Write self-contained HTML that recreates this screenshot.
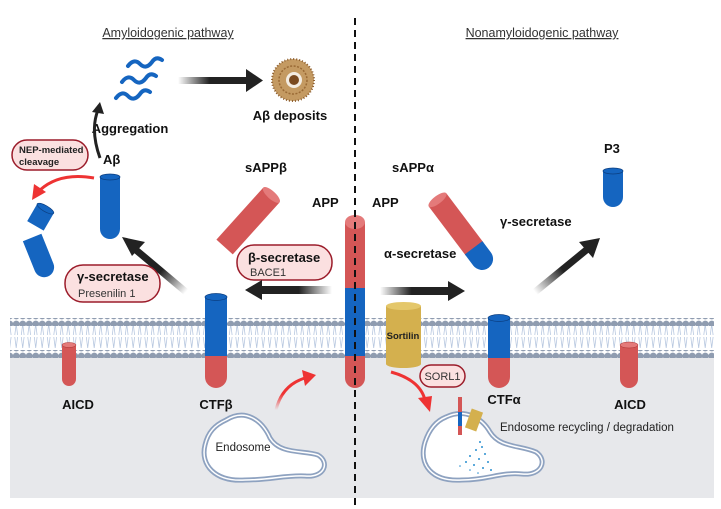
<!DOCTYPE html>
<html><head><meta charset="utf-8"><style>
html,body{margin:0;padding:0;background:#fff}
svg{display:block}
text{font-family:"Liberation Sans",sans-serif}
.b{font-weight:bold;font-size:13px;fill:#111}
</style></head><body>
<svg width="721" height="509" viewBox="0 0 721 509" xmlns="http://www.w3.org/2000/svg">
<defs>
<linearGradient id="gl" x1="1" y1="0" x2="0" y2="0"><stop offset="0" stop-color="#222" stop-opacity="0"/><stop offset="0.45" stop-color="#222"/></linearGradient>
<linearGradient id="gr" x1="0" y1="0" x2="1" y2="0"><stop offset="0" stop-color="#222" stop-opacity="0"/><stop offset="0.45" stop-color="#222"/></linearGradient>
<linearGradient id="gd1" gradientUnits="userSpaceOnUse" x1="186" y1="292" x2="136" y2="250"><stop offset="0" stop-color="#222" stop-opacity="0"/><stop offset="0.5" stop-color="#222"/></linearGradient>
<linearGradient id="gd2" gradientUnits="userSpaceOnUse" x1="535" y1="292" x2="590" y2="247"><stop offset="0" stop-color="#222" stop-opacity="0"/><stop offset="0.5" stop-color="#222"/></linearGradient>
<linearGradient id="gred" x1="0" y1="1" x2="0" y2="0"><stop offset="0" stop-color="#e33" stop-opacity="0"/><stop offset="0.5" stop-color="#e33"/></linearGradient>
<pattern id="lip" x="0" y="0" width="6.5" height="32" patternUnits="userSpaceOnUse">
<path d="M3.2 4 L1.8 15 M3.2 4 L4.6 15 M3.2 28 L1.8 17 M3.2 28 L4.6 17" stroke="#b8c8e0" stroke-width="0.8" fill="none"/>
</pattern>
<pattern id="bead" x="0" y="0" width="6.5" height="8" patternUnits="userSpaceOnUse">
<circle cx="3.25" cy="4" r="3.4" fill="#8f9cb0"/>
</pattern>
</defs>
<rect x="10" y="355" width="704" height="143" fill="#e7e8eb"/>
<rect x="10" y="322" width="704" height="32" fill="url(#lip)"/>
<rect x="10" y="318" width="704" height="8" fill="url(#bead)"/>
<rect x="10" y="350" width="704" height="8" fill="url(#bead)"/>

<text x="168" y="37" text-anchor="middle" font-size="12.5" fill="#333" text-decoration="underline">Amyloidogenic pathway</text>
<text x="542" y="37" text-anchor="middle" font-size="12.5" fill="#333" text-decoration="underline">Nonamyloidogenic pathway</text>

<g stroke="#1565c0" stroke-width="4" fill="none" stroke-linecap="round">
<path d="M128 66 q6 -8 12 -2 q6 6 12 -2 q4 -6 10 -2"/>
<path d="M122 82 q6 -8 12 -2 q6 6 12 -2 q4 -6 10 -2"/>
<path d="M116 98 q6 -8 12 -2 q6 6 12 -2 q4 -6 10 -2"/>
</g>
<rect x="178" y="77" width="70" height="7" fill="url(#gr)"/>
<polygon points="246,69 263,80.5 246,92" fill="#222"/>
<circle cx="293" cy="80" r="21" fill="#c49a62"/>
<circle cx="293" cy="80" r="21" fill="none" stroke="#8a5a2a" stroke-width="2" stroke-dasharray="1 2"/>
<circle cx="293" cy="80" r="14" fill="none" stroke="#9a6a35" stroke-width="1.5" stroke-dasharray="2 1.5"/>
<circle cx="294" cy="80" r="8" fill="#f3ece2"/>
<circle cx="294" cy="80" r="5" fill="#7a4a20"/>
<text x="290" y="120" text-anchor="middle" class="b" font-size="14">Aβ deposits</text>
<text x="130" y="133" text-anchor="middle" class="b" font-size="11.5">Aggregation</text>
<path d="M100 158 Q90 130 98 110" stroke="#222" stroke-width="3" fill="none"/>
<polygon points="92,112 100,102 104,114" fill="#222"/>

<rect x="12" y="140" width="76" height="30" rx="15" fill="#fbe0e0" stroke="#9b1c2a" stroke-width="1.5"/>
<text x="19" y="153" font-size="9.5" font-weight="bold" fill="#222">NEP-mediated</text>
<text x="19" y="165" font-size="9.5" font-weight="bold" fill="#222">cleavage</text>
<text x="103" y="164" class="b" font-size="14">Aβ</text>
<path d="M94 178 Q60 172 40 190" stroke="#e33" stroke-width="3" fill="none"/>
<polygon points="32,200 34,184 46,192" fill="#e33"/>
<path d="M100 177 h20 v52 a10 10 0 0 1 -20 0 z" fill="#1565c0"/>
<ellipse cx="110" cy="177" rx="10" ry="3" fill="#1565c0" stroke="#0b3e80" stroke-width="0.7"/>
<g transform="rotate(30 40 217)"><rect x="31" y="207" width="19" height="20" fill="#1565c0"/><ellipse cx="40.5" cy="207" rx="9.5" ry="3" fill="#1565c0" stroke="#0b3e80" stroke-width="0.7"/></g>
<g transform="rotate(-22 40 257)"><path d="M30 236 h20 v32 a10 10 0 0 1 -20 0 z" fill="#1565c0"/></g>

<path d="M186 292 L136 250" stroke="url(#gd1)" stroke-width="7"/>
<polygon points="122,237 145,242 132,256" fill="#222"/>
<rect x="65" y="265" width="95" height="37" rx="18" fill="#fbe0e0" stroke="#9b1c2a" stroke-width="1.5"/>
<text x="77" y="281" class="b" font-size="13.5">γ-secretase</text>
<text x="78" y="297" font-size="11" fill="#333">Presenilin 1</text>

<text x="245" y="172" class="b">sAPPβ</text>
<g transform="rotate(42 248 221)"><rect x="237" y="186" width="22" height="70" fill="#d45656"/><ellipse cx="248" cy="186" rx="11" ry="4" fill="#e47a7a"/></g>
<text x="312" y="207" class="b">APP</text>
<rect x="237" y="245" width="95" height="35" rx="17" fill="#fbe0e0" stroke="#9b1c2a" stroke-width="1.5"/>
<text x="248" y="262" class="b" font-size="13.5">β-secretase</text>
<text x="250" y="276" font-size="11" fill="#333">BACE1</text>
<rect x="258" y="286" width="74" height="8" fill="url(#gl)"/>
<polygon points="262,280 245,290 262,300" fill="#222"/>

<rect x="345" y="222" width="20" height="68" fill="#d45656"/>
<rect x="345" y="288" width="20" height="70" fill="#1565c0"/>
<path d="M345 356 h20 v22 a10 10 0 0 1 -20 0 z" fill="#d45656"/>
<ellipse cx="355" cy="222" rx="10" ry="7" fill="#e47a7a"/>
<text x="372" y="207" class="b">APP</text>

<rect x="205" y="297" width="22" height="60" fill="#1565c0"/>
<ellipse cx="216" cy="297" rx="11" ry="3.5" fill="#1565c0" stroke="#0b3e80" stroke-width="0.7"/>
<path d="M205 356 h22 v21 a11 11 0 0 1 -22 0 z" fill="#d45656"/>
<text x="216" y="409" text-anchor="middle" class="b">CTFβ</text>
<path d="M62 345 h14 v34 a7 7 0 0 1 -14 0 z" fill="#d45656"/>
<ellipse cx="69" cy="345" rx="7" ry="2.5" fill="#e47a7a" stroke="#a33" stroke-width="0.5"/>
<text x="78" y="409" text-anchor="middle" class="b">AICD</text>

<text x="392" y="172" class="b">sAPPα</text>
<g transform="rotate(-37 461 231)"><rect x="450" y="192" width="22" height="62" fill="#d45656"/><path d="M450 252 h22 v14 a11 11 0 0 1 -22 0 z" fill="#1565c0"/><ellipse cx="461" cy="192" rx="11" ry="4" fill="#e47a7a"/></g>
<text x="500" y="226" class="b">γ-secretase</text>
<text x="384" y="258" class="b">α-secretase</text>
<rect x="380" y="287" width="70" height="8" fill="url(#gr)"/>
<polygon points="448,281 465,291 448,301" fill="#222"/>
<path d="M535 292 L590 247" stroke="url(#gd2)" stroke-width="7"/>
<polygon points="600,238 593,258 579,242" fill="#222"/>
<text x="604" y="153" class="b">P3</text>
<path d="M603 171 h20 v26 a10 10 0 0 1 -20 0 z" fill="#1565c0"/>
<ellipse cx="613" cy="171" rx="10" ry="3" fill="#1565c0" stroke="#0b3e80" stroke-width="0.7"/>

<rect x="386" y="306" width="35" height="58" fill="#d4b04e"/>
<ellipse cx="403.5" cy="306" rx="17.5" ry="4" fill="#e4c76a"/>
<ellipse cx="403.5" cy="364" rx="17.5" ry="4" fill="#d4b04e"/>
<text x="403" y="339" text-anchor="middle" font-size="9.5" font-weight="bold" fill="#222">Sortilin</text>
<rect x="420" y="365" width="45" height="22" rx="11" fill="#fbe0e0" stroke="#9b1c2a" stroke-width="1.5"/>
<text x="442.5" y="380" text-anchor="middle" font-size="11" fill="#333">SORL1</text>

<rect x="488" y="318" width="22" height="42" fill="#1565c0"/>
<ellipse cx="499" cy="318" rx="11" ry="3.5" fill="#1565c0" stroke="#0b3e80" stroke-width="0.7"/>
<path d="M488 358 h22 v19 a11 11 0 0 1 -22 0 z" fill="#d45656"/>
<text x="504" y="404" text-anchor="middle" class="b">CTFα</text>
<path d="M620 345 h18 v34 a9 9 0 0 1 -18 0 z" fill="#d45656"/>
<ellipse cx="629" cy="345" rx="9" ry="3" fill="#e47a7a" stroke="#a33" stroke-width="0.5"/>
<text x="630" y="409" text-anchor="middle" class="b">AICD</text>

<path d="M226 420 C245 408 262 420 270 438 C280 455 305 450 318 455 C330 462 325 478 305 476 C285 475 270 480 245 480 C215 482 200 465 205 445 C208 432 215 425 226 420 Z" fill="#fff" stroke="#8ea2c0" stroke-width="5"/>
<path d="M226 420 C245 408 262 420 270 438 C280 455 305 450 318 455 C330 462 325 478 305 476 C285 475 270 480 245 480 C215 482 200 465 205 445 C208 432 215 425 226 420 Z" fill="none" stroke="#fff" stroke-width="1.5"/>
<text x="243" y="451" text-anchor="middle" font-size="11.5" fill="#222">Endosome</text>
<path d="M276 410 Q282 385 305 378" stroke="url(#gred)" stroke-width="3" fill="none"/>
<polygon points="316,375 302,370 305,386" fill="#e33"/>
<path d="M446 417 C465 408 482 418 490 432 C500 448 520 445 536 452 C548 460 542 476 522 474 C500 472 488 480 462 480 C432 482 418 465 425 442 C429 430 436 421 446 417 Z" fill="#fff" stroke="#8ea2c0" stroke-width="5"/>
<path d="M446 417 C465 408 482 418 490 432 C500 448 520 445 536 452 C548 460 542 476 522 474 C500 472 488 480 462 480 C432 482 418 465 425 442 C429 430 436 421 446 417 Z" fill="none" stroke="#fff" stroke-width="1.5"/>
<path d="M391 372 Q420 380 425 400" stroke="#e33" stroke-width="3" fill="none"/>
<polygon points="430,412 418,398 432,396" fill="#e33"/>
<rect x="458" y="397" width="4" height="15" fill="#d45656"/>
<rect x="458" y="412" width="4" height="14" fill="#1565c0"/>
<rect x="458" y="426" width="4" height="9" fill="#d45656"/>
<g transform="rotate(20 474 420)"><rect x="468" y="410" width="12" height="20" fill="#d4b04e"/></g>
<g fill="#2a8fd0">
<circle cx="480" cy="442" r="1"/><circle cx="482" cy="447" r="1"/><circle cx="476" cy="450" r="1"/><circle cx="485" cy="454" r="1"/><circle cx="470" cy="456" r="1"/><circle cx="479" cy="459" r="1"/><circle cx="488" cy="462" r="1"/><circle cx="466" cy="462" r="1"/><circle cx="474" cy="465" r="1"/><circle cx="483" cy="468" r="1"/><circle cx="460" cy="466" r="0.8"/><circle cx="491" cy="470" r="1"/><circle cx="470" cy="470" r="0.8"/><circle cx="478" cy="473" r="0.8"/>
</g>
<text x="500" y="431" font-size="11.5" fill="#222">Endosome recycling / degradation</text>

<line x1="355" y1="18" x2="355" y2="508" stroke="#111" stroke-width="2" stroke-dasharray="7 5"/>
</svg>
</body></html>
